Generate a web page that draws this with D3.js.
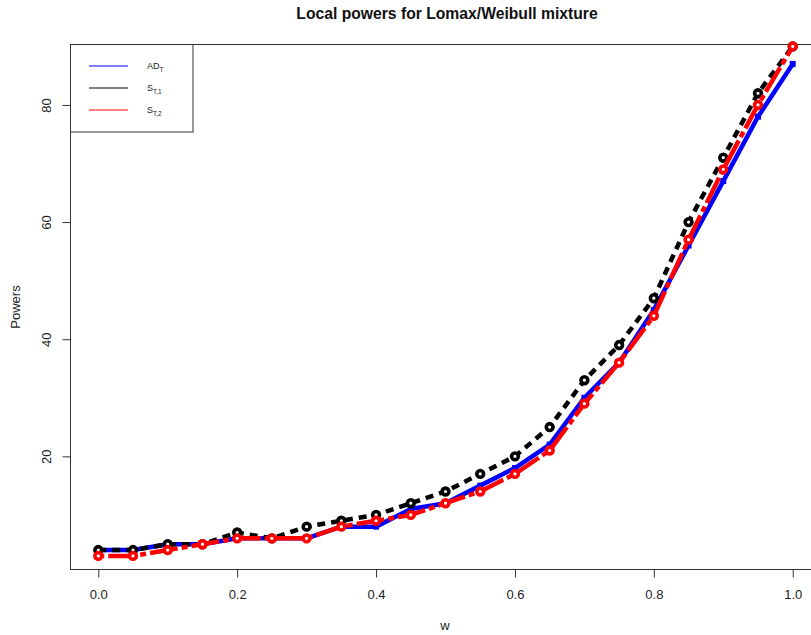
<!DOCTYPE html>
<html>
<head>
<meta charset="utf-8">
<script src="https://cdn.jsdelivr.net/npm/d3@7"></script>
<style>
    body { margin: 0; background: #fff; }
    svg { display: block; font-family: "Liberation Sans", Arial, sans-serif; }
</style>
</head>
<body>
<div class="canvas"></div>
<script>
// Data
const w = [0, 0.05, 0.1, 0.15, 0.2, 0.25, 0.3, 0.35, 0.4, 0.45, 0.5,
           0.55, 0.6, 0.65, 0.7, 0.75, 0.8, 0.85, 0.9, 0.95, 1];
const adT = [4, 4, 5, 5, 6, 6, 6, 8, 8, 11, 12, 15, 18, 22, 30, 36, 45, 56, 67, 78, 87];
const sT1 = [4, 4, 5, 5, 7, 6, 8, 9, 10, 12, 14, 17, 20, 25, 33, 39, 47, 60, 71, 82, 90];
const sT2 = [3, 3, 4, 5, 6, 6, 6, 8, 9, 10, 12, 14, 17, 21, 29, 36, 44, 57, 69, 80, 90];
const xTicks = [0, 0.2, 0.4, 0.6, 0.8, 1.0];
const yTicks = [20, 40, 60, 80];
const legendNames = [['AD', 'T'], ['S', 'T,1'], ['S', 'T,2']];

const app = {
    svg: null,
    xScale: null,
    yScale: null,

    init: function() {
        app.svg = d3.select('.canvas')
            .append('svg')
            .attr('width', 811)
            .attr('height', 635);

        // R style limits (4% padding)
        app.xScale = d3.scaleLinear().domain([-0.04, 1.04]).range([70.5, 820.5]);
        app.yScale = d3.scaleLinear().domain([0.68, 90.32]).range([569.5, 44.5]);

        app.drawAxes();
        app.drawSeries(adT, '#0000ff', null, 'square');
        app.drawSeries(sT1, '#000000', '8,6', 'circle');
        app.drawSeries(sT2, '#ff0000', '6,4,28,4', 'circle');
        app.drawLegend();
        app.drawLabels();
    },

    drawAxes: function() {
        const x = app.xScale, y = app.yScale;

        app.svg.append('rect')
            .attr('x', x(-0.04))
            .attr('y', y(90.32))
            .attr('width', x(1.04) - x(-0.04))
            .attr('height', y(0.68) - y(90.32))
            .attr('fill', 'none')
            .attr('stroke', '#333');

        const xAxis = d3.axisBottom(x)
            .tickValues(xTicks)
            .tickSize(8)
            .tickPadding(12)
            .tickFormat(d3.format('.1f'));
        const gx = app.svg.append('g')
            .attr('transform', `translate(0, ${y(0.68)})`)
            .call(xAxis);
        gx.select('.domain').remove();
        gx.selectAll('line').attr('stroke', '#333');
        gx.selectAll('text')
            .attr('font-size', 13)
            .attr('fill', '#222')
            .attr('font-family', 'Liberation Sans, Arial, sans-serif');

        const yAxis = d3.axisLeft(y)
            .tickValues(yTicks)
            .tickSize(8);
        const gy = app.svg.append('g')
            .attr('transform', `translate(${x(-0.04)}, 0)`)
            .call(yAxis);
        gy.select('.domain').remove();
        gy.selectAll('line').attr('stroke', '#333');
        gy.selectAll('text')
            .attr('font-size', 13)
            .attr('fill', '#222')
            .attr('font-family', 'Liberation Sans, Arial, sans-serif')
            .attr('text-anchor', 'middle')
            .attr('transform', 'rotate(-90)')
            .attr('x', 0)
            .attr('y', -24)
            .attr('dy', '0.35em');
    },

    drawSeries: function(values, color, dash, shape) {
        const x = app.xScale, y = app.yScale;
        const pts = w.map((d, i) => ({ w: d, v: values[i] }));

        const line = d3.line()
            .x(d => x(d.w))
            .y(d => y(d.v));

        app.svg.append('path')
            .datum(pts)
            .attr('d', line)
            .attr('fill', 'none')
            .attr('stroke', color)
            .attr('stroke-width', 4.5)
            .attr('stroke-dasharray', dash)
            .attr('stroke-linejoin', 'round');

        if (shape === 'square') {
            app.svg.append('g').selectAll('rect')
                .data(pts)
                .enter()
                .append('rect')
                    .attr('x', d => x(d.w) - 3)
                    .attr('y', d => y(d.v) - 3)
                    .attr('width', 6)
                    .attr('height', 6)
                    .attr('fill', color);
        } else {
            app.svg.append('g').selectAll('circle')
                .data(pts)
                .enter()
                .append('circle')
                    .attr('cx', d => x(d.w))
                    .attr('cy', d => y(d.v))
                    .attr('r', 3.4)
                    .attr('fill', '#fff')
                    .attr('stroke', color)
                    .attr('stroke-width', 3.6);
        }
    },

    drawLegend: function() {
        const colors = ['#0000ff', '#000000', '#ff0000'];
        const rowY = [66, 88, 110];

        app.svg.append('rect')
            .attr('x', 70.5)
            .attr('y', 44.5)
            .attr('width', 122.5)
            .attr('height', 87.5)
            .attr('fill', '#fff')
            .attr('stroke', '#333');

        const rows = app.svg.append('g').selectAll('g')
            .data(legendNames)
            .enter()
            .append('g')
                .attr('transform', (d, i) => `translate(0, ${rowY[i]})`);

        rows.append('line')
            .attr('x1', 89)
            .attr('x2', 128)
            .attr('stroke', (d, i) => colors[i])
            .attr('stroke-width', 1);

        const label = rows.append('text')
            .attr('x', 147)
            .attr('dy', '0.35em')
            .attr('font-size', 9)
            .attr('fill', '#222');
        label.append('tspan').text(d => d[0]);
        label.append('tspan')
            .attr('font-size', 6.5)
            .attr('dy', 2.5)
            .text(d => d[1]);
    },

    drawLabels: function() {
        app.svg.append('text')
            .attr('x', 447)
            .attr('y', 19)
            .attr('text-anchor', 'middle')
            .attr('font-size', 15.7)
            .attr('font-weight', 'bold')
            .attr('fill', '#111')
            .text('Local powers for Lomax/Weibull mixture');

        app.svg.append('text')
            .attr('x', 445)
            .attr('y', 630)
            .attr('text-anchor', 'middle')
            .attr('font-size', 13)
            .attr('fill', '#222')
            .text('w');

        app.svg.append('text')
            .attr('transform', 'translate(20, 307) rotate(-90)')
            .attr('text-anchor', 'middle')
            .attr('font-size', 13)
            .attr('fill', '#222')
            .text('Powers');
    }
};

document.addEventListener('DOMContentLoaded', app.init);
</script>
</body>
</html>
